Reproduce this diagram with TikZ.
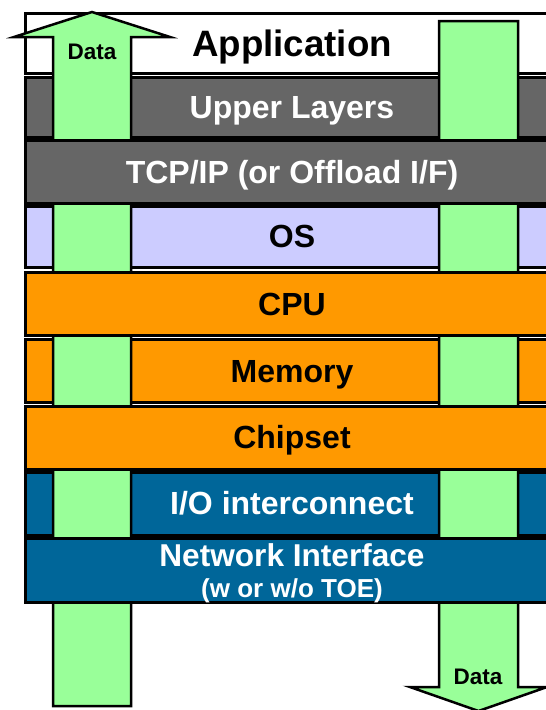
\documentclass[tikz,border=0pt]{standalone}
\usepackage{fontspec}
\setmainfont{Liberation Sans}
\definecolor{laygray}{HTML}{666666}
\definecolor{laylav}{HTML}{CCCCFF}
\definecolor{layorange}{HTML}{FF9900}
\definecolor{layblue}{HTML}{006699}
\definecolor{arrgreen}{HTML}{99FF99}
\tikzset{
  layer/.style={draw=black, line width=3pt, rectangle, minimum width=534pt, inner sep=0pt,
    font=\fontsize{32}{36}\selectfont\bfseries, text height=22.9pt, text depth=0pt},
  dataarrow/.style={draw=black, line width=2.5pt, fill=arrgreen, line join=miter},
  datalabel/.style={font=\fontsize{22.5}{24}\selectfont\bfseries, text height=16.1pt, text depth=0pt, inner sep=0pt},
}
\begin{document}
\begin{tikzpicture}[x=1pt,y=-1pt]
\useasboundingbox (0,0) rectangle (546,710);
\clip (0,0) rectangle (546,710);
\fill[white] (0,0) rectangle (546,710);
% layers beneath the arrows
\node[layer, fill=white, minimum height=60pt, font=\fontsize{36.7}{40}\selectfont\bfseries, text height=26.3pt] (app) at (292,43) {Application};
\node[layer, fill=laygray, text=white, minimum height=60pt] (upper) at (292,107.5) {Upper Layers};
\node[layer, fill=laylav, minimum height=61pt] (os) at (292,236.5) {OS};
\node[layer, fill=layorange, minimum height=63pt] (mem) at (292,371) {Memory};
\node[layer, fill=layblue, text=white, minimum height=63pt] (io) at (292,503.5) {I/O interconnect};
% arrows
\draw[dataarrow] (53,706) -- (53,37) -- (14,37) -- (92,12) -- (170,37) -- (131,37) -- (131,706) -- cycle;
\draw[dataarrow] (439,21) -- (518,21) -- (518,687) -- (547,687) -- (478.5,711) -- (410,687) -- (439,687) -- cycle;
% layers above the arrows
\node[layer, fill=laygray, text=white, minimum height=63pt] (tcp) at (292,172) {TCP/IP (or Offload I/F)};
\node[layer, fill=layorange, minimum height=63pt] (cpu) at (292,304) {CPU};
\node[layer, fill=layorange, minimum height=63pt] (chip) at (292,437.5) {Chipset};
\node[layer, fill=layblue, minimum height=64pt] (net) at (292,570) {};
\node[text=white, font=\fontsize{31.6}{34}\selectfont\bfseries, text height=22.6pt, text depth=0pt, inner sep=0pt] (netlabel) at (292,555) {Network Interface};
\node[text=white, font=\fontsize{26}{28}\selectfont\bfseries, text height=18.6pt, text depth=0pt, inner sep=0pt] (toelabel) at (292,588) {(w or w/o TOE)};
% data labels
\node[datalabel] (dataup) at (92,51) {Data};
\node[datalabel] (datadown) at (478,676) {Data};
\end{tikzpicture}
\end{document}
